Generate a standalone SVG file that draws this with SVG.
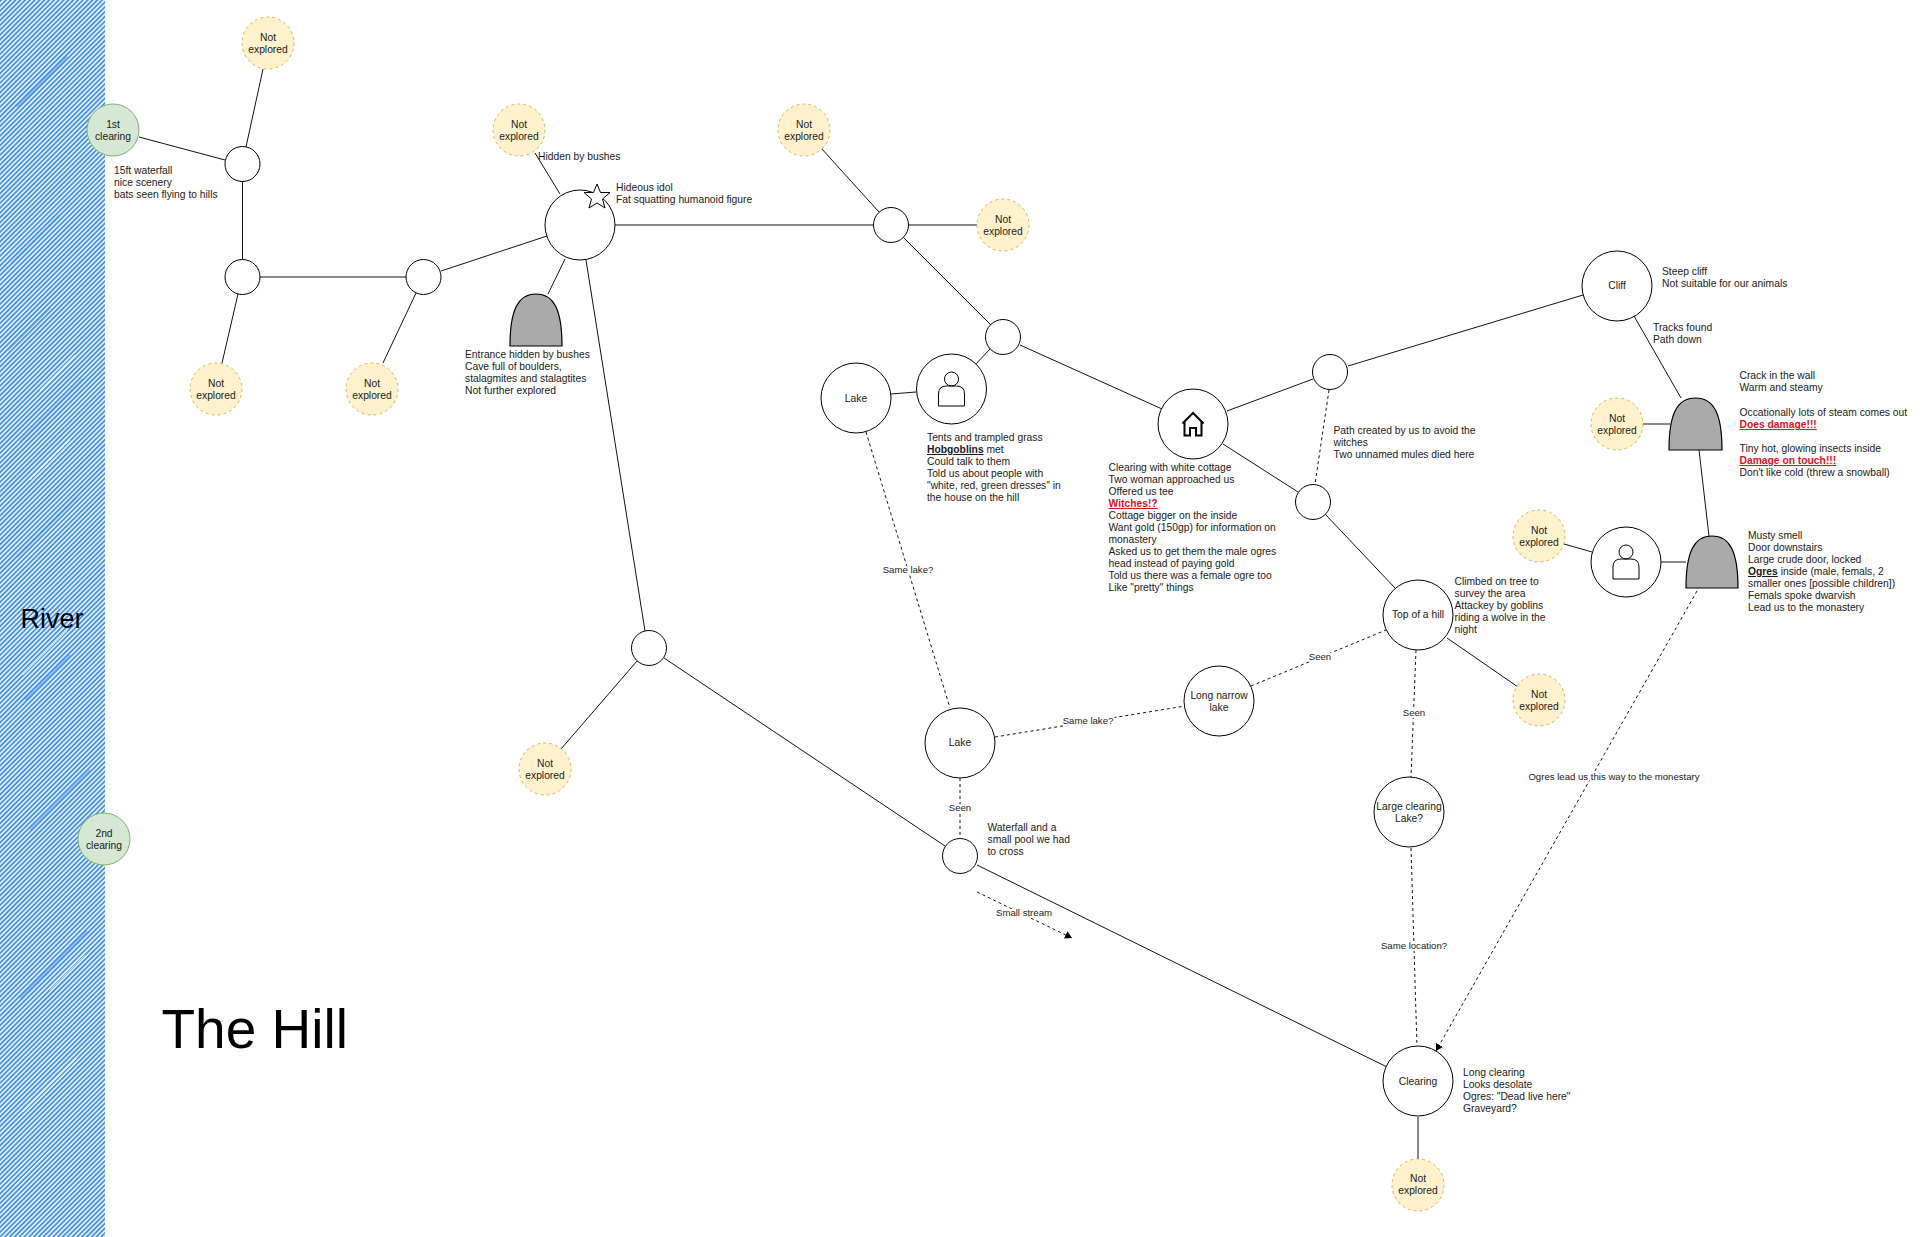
<svg xmlns="http://www.w3.org/2000/svg" width="1920" height="1237" viewBox="0 0 1920 1237">
<style>
text{font-family:"Liberation Sans",Arial,Helvetica,sans-serif;fill:#1a1a1a;font-size:10.3px}
.c{text-anchor:middle}
.el{text-anchor:middle;font-size:9.6px;paint-order:stroke;stroke:#fff;stroke-width:4px;stroke-linejoin:round}
.n{fill:#fff;stroke:#000;stroke-width:1}
.ne{fill:#fff2cc;stroke:#d6b656;stroke-width:1;stroke-dasharray:3 3}
.g{fill:#d5e8d4;stroke:#82b366;stroke-width:1}
.cave{fill:#aaa;stroke:#000;stroke-width:1.2}
.icon{fill:none;stroke:#000;stroke-width:1}
.solid line{stroke:#111;stroke-width:1}
.dash line{stroke:#111;stroke-width:1;stroke-dasharray:3 3}
.b{font-weight:bold;text-decoration:underline}
.r{font-weight:bold;text-decoration:underline;fill:#e01020}
</style>
<defs>
<pattern id="hatch" width="3.4" height="3.4" patternUnits="userSpaceOnUse" patternTransform="rotate(-45)">
<rect width="3.4" height="3.4" fill="#eef5fd"/>
<rect width="3.4" height="1.8" y="0" fill="#4592e6"/>
</pattern>
<marker id="arr" markerWidth="8" markerHeight="8" refX="7" refY="4" orient="auto" markerUnits="userSpaceOnUse"><path d="M0 0L7 4L0 8Z" fill="#000"/></marker>
<g id="personIcon"><circle cx="0" cy="-10" r="7" class="icon"/><path class="icon" d="M-13 17V5Q-13 -3 -5 -3H5Q13 -3 13 5V17Z"/></g>
</defs>
<g id="river">
<rect x="0" y="0" width="105" height="1237" fill="url(#hatch)"/>
<path d="M17 107L67 57M20 442L83 379M17 557L77 497M20 998L87 931M12 263L60 215M30 830L90 770M8 350L50 308M25 700L70 655" stroke="#4592e6" stroke-width="2.2" opacity=".5" fill="none"/>
<path d="M23 675L67 631M23 1112L77 1058M40 390L75 355M15 1185L50 1150M50 990L85 955M30 480L70 440" stroke="#fff" stroke-width="1" opacity=".7" fill="none"/>
<text x="52" y="628" class="c" style="font-size:27px;fill:#000">River</text>
</g>
<g id="connectors">
<g class="solid">
<line x1="263" y1="69" x2="246" y2="147"/>
<line x1="139" y1="137" x2="225" y2="160"/>
<line x1="242.500" y1="181" x2="242.500" y2="260"/>
<line x1="260" y1="277" x2="406" y2="277"/>
<line x1="238" y1="294" x2="222" y2="363"/>
<line x1="441" y1="271" x2="547" y2="236"/>
<line x1="416" y1="293" x2="383" y2="363"/>
<line x1="560" y1="194" x2="535" y2="153"/>
<line x1="565" y1="259" x2="548" y2="294"/>
<line x1="586" y1="260" x2="645" y2="631"/>
<line x1="615" y1="225" x2="873" y2="225"/>
<line x1="908" y1="225" x2="977" y2="225"/>
<line x1="821" y1="148" x2="879" y2="212"/>
<line x1="903" y1="237" x2="991" y2="325"/>
<line x1="990" y1="349" x2="975" y2="365"/>
<line x1="916" y1="392" x2="891" y2="394"/>
<line x1="1020" y1="345" x2="1162" y2="409"/>
<line x1="1227" y1="411" x2="1313" y2="379"/>
<line x1="1223" y1="444" x2="1298" y2="492"/>
<line x1="1348" y1="366" x2="1583" y2="295"/>
<line x1="1634" y1="316" x2="1681" y2="398"/>
<line x1="1643" y1="424" x2="1670" y2="424"/>
<line x1="1699" y1="450" x2="1709" y2="536"/>
<line x1="1661" y1="562" x2="1686" y2="562"/>
<line x1="1564" y1="544" x2="1592" y2="552"/>
<line x1="1325" y1="514" x2="1395" y2="588"/>
<line x1="1447" y1="638" x2="1518" y2="687"/>
<line x1="637" y1="661" x2="561" y2="749"/>
<line x1="664" y1="658" x2="945" y2="846"/>
<line x1="977" y1="865" x2="1387" y2="1067"/>
<line x1="1418" y1="1117" x2="1418" y2="1159"/>
</g>
<g class="dash">
<line x1="866" y1="432" x2="950" y2="708"/>
<line x1="995" y1="737" x2="1185" y2="706"/>
<line x1="1251" y1="686" x2="1386" y2="630"/>
<line x1="1416" y1="650" x2="1411" y2="777"/>
<line x1="1411" y1="848" x2="1417" y2="1047"/>
<line x1="960" y1="778" x2="960" y2="839"/>
<line x1="1329" y1="390" x2="1315" y2="484"/>
<line x1="1697" y1="591" x2="1436" y2="1051" marker-end="url(#arr)"/>
<line x1="977" y1="892" x2="1072" y2="938" marker-end="url(#arr)"/>
</g>
<g id="edge-labels">
<text x="908" y="573" class="el">Same lake?</text>
<text x="1088" y="724" class="el">Same lake?</text>
<text x="1320" y="660" class="el">Seen</text>
<text x="1414" y="716" class="el">Seen</text>
<text x="1414" y="949" class="el">Same location?</text>
<text x="960" y="811" class="el">Seen</text>
<text x="1614" y="780" class="el">Ogres lead us this way to the monestary</text>
<text x="1024" y="916" class="el">Small stream</text>
</g>
</g>
<g id="n-ne1"><circle class="ne" cx="268" cy="43" r="26"/><text class="c" x="268" y="41">Not</text><text class="c" x="268" y="53">explored</text></g>
<g id="n-first"><circle class="g" cx="113" cy="130" r="26"/><text class="c" x="113" y="128">1st</text><text class="c" x="113" y="140">clearing</text></g>
<g id="n-second"><circle class="g" cx="104" cy="839" r="26"/><text class="c" x="104" y="837">2nd</text><text class="c" x="104" y="849">clearing</text></g>
<g id="n-s1"><circle class="n" cx="242.500" cy="164" r="17.500"/></g>
<g id="n-s2"><circle class="n" cx="242.500" cy="277" r="17.500"/></g>
<g id="n-s3"><circle class="n" cx="423.500" cy="277" r="17.500"/></g>
<g id="n-ne2"><circle class="ne" cx="216" cy="389" r="26"/><text class="c" x="216" y="387">Not</text><text class="c" x="216" y="399">explored</text></g>
<g id="n-ne3"><circle class="ne" cx="372" cy="389" r="26"/><text class="c" x="372" y="387">Not</text><text class="c" x="372" y="399">explored</text></g>
<g id="n-ne4"><circle class="ne" cx="519" cy="130" r="26"/><text class="c" x="519" y="128">Not</text><text class="c" x="519" y="140">explored</text></g>
<g id="n-idol"><circle class="n" cx="580" cy="225" r="35"/><path fill="#fff" stroke="#000" d="M597 184L600.500 192.500L610 192.500L602.500 199L605 208L597 203L589 208L591.500 199L584 192.500L593.500 192.500Z"/>
<text x="616" y="191">Hideous idol</text><text x="616" y="203">Fat squatting humanoid figure</text></g>
<g id="n-cave1"><path class="cave" d="M510 346C510 310 518 294 536 294C554 294 562 310 562 346Z"/>
<text x="465" y="358">Entrance hidden by bushes</text><text x="465" y="370">Cave full of boulders,</text><text x="465" y="382">stalagmites and stalagtites</text><text x="465" y="394">Not further explored</text></g>
<g id="n-ne5"><circle class="ne" cx="804" cy="130" r="26"/><text class="c" x="804" y="128">Not</text><text class="c" x="804" y="140">explored</text></g>
<g id="n-s4"><circle class="n" cx="891" cy="225" r="17.500"/></g>
<g id="n-ne6"><circle class="ne" cx="1003" cy="225" r="26"/><text class="c" x="1003" y="223">Not</text><text class="c" x="1003" y="235">explored</text></g>
<g id="n-s5"><circle class="n" cx="1003" cy="337" r="17.500"/></g>
<g id="n-hob"><circle class="n" cx="951.500" cy="389" r="35"/><use href="#personIcon" x="951.500" y="389"/>
<text x="927" y="441">Tents and trampled grass</text><text x="927" y="453"><tspan class="b">Hobgoblins</tspan> met</text><text x="927" y="465">Could talk to them</text><text x="927" y="477">Told us about people with</text><text x="927" y="489">"white, red, green dresses" in</text><text x="927" y="501">the house on the hill</text></g>
<g id="n-lake1"><circle class="n" cx="856" cy="398" r="35"/><text class="c" x="856" y="402">Lake</text></g>
<g id="n-house"><circle class="n" cx="1193" cy="424" r="35"/><path fill="none" stroke="#000" stroke-width="2" d="M1182.500 423.500L1193 413L1203.500 423.500M1184.500 421.500V435.500H1190V428H1196V435.500H1201.500V421.500"/>
<text x="1108.500" y="471">Clearing with white cottage</text><text x="1108.500" y="483">Two woman approached us</text><text x="1108.500" y="495">Offered us tee</text><text x="1108.500" y="507" class="r">Witches!?</text><text x="1108.500" y="519">Cottage bigger on the inside</text><text x="1108.500" y="531">Want gold (150gp) for information on</text><text x="1108.500" y="543">monastery</text><text x="1108.500" y="555">Asked us to get them the male ogres</text><text x="1108.500" y="567">head instead of paying gold</text><text x="1108.500" y="579">Told us there was a female ogre too</text><text x="1108.500" y="591">Like "pretty" things</text></g>
<g id="n-s6"><circle class="n" cx="1330" cy="372" r="17.500"/></g>
<g id="n-s7"><circle class="n" cx="1313" cy="502" r="17.500"/>
<text x="1333.500" y="434">Path created by us to avoid the</text><text x="1333.500" y="446">witches</text><text x="1333.500" y="458">Two unnamed mules died here</text></g>
<g id="n-cliff"><circle class="n" cx="1617" cy="286" r="35"/><text class="c" x="1617" y="289">Cliff</text>
<text x="1662" y="275">Steep cliff</text><text x="1662" y="287">Not suitable for our animals</text>
<text x="1653" y="331">Tracks found</text><text x="1653" y="343">Path down</text></g>
<g id="n-cave2"><path class="cave" d="M1669 450C1669 414 1677 398 1695.500 398C1714 398 1722 414 1722 450Z"/>
<text x="1739.500" y="379">Crack in the wall</text><text x="1739.500" y="391">Warm and steamy</text><text x="1739.500" y="416">Occationally lots of steam comes out</text><text x="1739.500" y="428" class="r">Does damage!!!</text><text x="1739.500" y="452">Tiny hot, glowing insects inside</text><text x="1739.500" y="464" class="r">Damage on touch!!!</text><text x="1739.500" y="476">Don't like cold (threw a snowball)</text></g>
<g id="n-ne7"><circle class="ne" cx="1617" cy="424" r="26"/><text class="c" x="1617" y="422">Not</text><text class="c" x="1617" y="434">explored</text></g>
<g id="n-ne8"><circle class="ne" cx="1539" cy="536" r="26"/><text class="c" x="1539" y="534">Not</text><text class="c" x="1539" y="546">explored</text></g>
<g id="n-ogre"><circle class="n" cx="1626" cy="562" r="35"/><use href="#personIcon" x="1626" y="562"/></g>
<g id="n-cave3"><path class="cave" d="M1686 588C1686 552 1694 536 1712 536C1730 536 1738 552 1738 588Z"/>
<text x="1748" y="539">Musty smell</text><text x="1748" y="551">Door downstairs</text><text x="1748" y="563">Large crude door, locked</text><text x="1748" y="575"><tspan class="b">Ogres</tspan> inside (male, femals, 2</text><text x="1748" y="587">smaller ones [possible children])</text><text x="1748" y="599">Femals spoke dwarvish</text><text x="1748" y="611">Lead us to the monastery</text></g>
<g id="n-top"><circle class="n" cx="1418" cy="615" r="35"/><text class="c" x="1418" y="618">Top of a hill</text>
<text x="1454.500" y="585">Climbed on tree to</text><text x="1454.500" y="597">survey the area</text><text x="1454.500" y="609">Attackey by goblins</text><text x="1454.500" y="621">riding a wolve in the</text><text x="1454.500" y="633">night</text></g>
<g id="n-ne9"><circle class="ne" cx="1539" cy="700" r="26"/><text class="c" x="1539" y="698">Not</text><text class="c" x="1539" y="710">explored</text></g>
<g id="n-narrow"><circle class="n" cx="1219" cy="701" r="35"/><text class="c" x="1219" y="699">Long narrow</text><text class="c" x="1219" y="711">lake</text></g>
<g id="n-lake2"><circle class="n" cx="960" cy="743" r="35"/><text class="c" x="960" y="746">Lake</text></g>
<g id="n-large"><circle class="n" cx="1409" cy="812" r="35"/><text class="c" x="1409" y="810">Large clearing</text><text class="c" x="1409" y="822">Lake?</text></g>
<g id="n-s8"><circle class="n" cx="960" cy="856" r="17.500"/>
<text x="987.500" y="831">Waterfall and a</text><text x="987.500" y="843">small pool we had</text><text x="987.500" y="855">to cross</text></g>
<g id="n-s9"><circle class="n" cx="649" cy="648" r="17.500"/></g>
<g id="n-ne10"><circle class="ne" cx="545" cy="769" r="26"/><text class="c" x="545" y="767">Not</text><text class="c" x="545" y="779">explored</text></g>
<g id="n-clearing"><circle class="n" cx="1418" cy="1081" r="35"/><text class="c" x="1418" y="1085">Clearing</text>
<text x="1463" y="1076">Long clearing</text><text x="1463" y="1088">Looks desolate</text><text x="1463" y="1100">Ogres: "Dead live here"</text><text x="1463" y="1112">Graveyard?</text></g>
<g id="n-ne11"><circle class="ne" cx="1418" cy="1185" r="26"/><text class="c" x="1418" y="1182">Not</text><text class="c" x="1418" y="1194">explored</text></g>
<text x="538" y="160">Hidden by bushes</text>
<text x="114" y="174">15ft waterfall</text><text x="114" y="186">nice scenery</text><text x="114" y="198">bats seen flying to hills</text>
<text x="161.500" y="1048" style="font-size:55px;fill:#000">The Hill</text>
</svg>
